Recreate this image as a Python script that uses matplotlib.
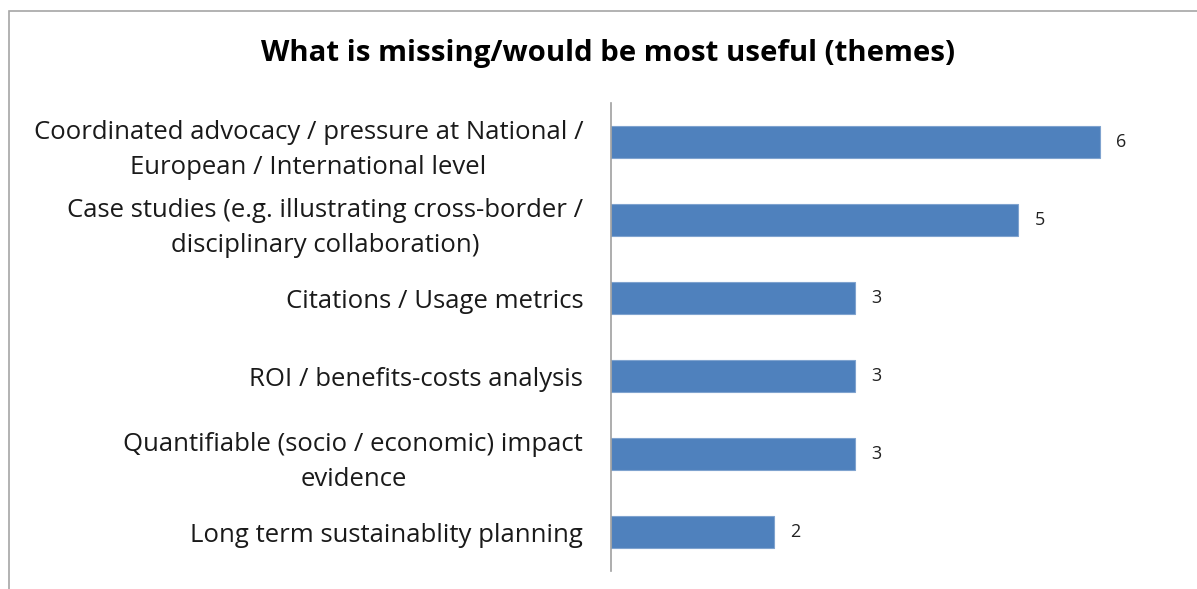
import matplotlib
matplotlib.use("Agg")
import matplotlib.pyplot as plt
from matplotlib.patches import Rectangle

categories = [
    "Coordinated advocacy / pressure at National /\nEuropean / International level",
    "Case studies (e.g. illustrating cross-border /\ndisciplinary collaboration)",
    "Citations / Usage metrics",
    "ROI / benefits-costs analysis",
    "Quantifiable (socio / economic) impact\nevidence",
    "Long term sustainablity planning",
]
values = [6, 5, 3, 3, 3, 2]
title = "What is missing/would be most useful (themes)"

W, H = 1197, 589
fig = plt.figure(figsize=(W / 100, H / 100), dpi=100)
fig.patch.set_facecolor("white")

# outer chart frame (continues past the right and bottom edges)
fig.patches.append(Rectangle((9 / W, -0.1), 1.2, 1.1 - 11 / H, transform=fig.transFigure,
                             fill=False, edgecolor="#A6A6A6", linewidth=1.2))

left, right = 611 / W, 1181 / W
top, bottom = 1 - 103 / H, 1 - 571 / H
ax = fig.add_axes([left, bottom, right - left, top - bottom])

y = list(range(len(categories)))
ax.barh(y, values, height=0.4, color="#4F81BD", edgecolor="#7FA3CF", linewidth=0.8)
ax.set_ylim(len(categories) - 0.5, -0.5)
ax.set_xlim(0, 7)

for yi, v in zip(y, values):
    ax.text(v + 0.2, yi, str(v), va="center", ha="left", fontsize=13,
            family="Open Sans", color="#222222")

ax.set_yticks(y)
ax.set_yticklabels(categories, fontsize=18.5, family="Open Sans", color="#1a1a1a",
                   linespacing=1.55)
for lbl in ax.get_yticklabels():
    lbl.set_multialignment("center")
ax.tick_params(axis="y", length=0, pad=20)
ax.set_xticks([])
for s in ["top", "right", "bottom"]:
    ax.spines[s].set_visible(False)
ax.spines["left"].set_color("#A0A0A0")
ax.spines["left"].set_linewidth(1.2)

fig.text(608 / W, 1 - 54 / H, title, ha="center", va="center", fontsize=21.2,
         fontweight="bold", family="Open Sans", color="#000000")

fig.savefig("out.png", dpi=100)
